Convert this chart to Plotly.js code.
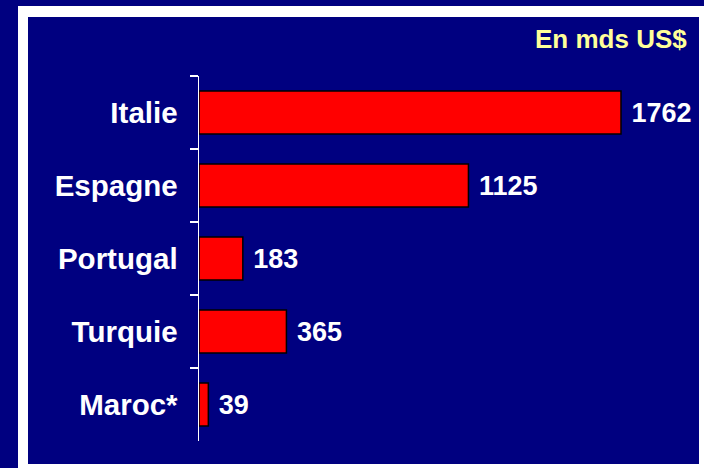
<!DOCTYPE html>
<html>
<head>
<meta charset="utf-8">
<script src="https://cdn.plot.ly/plotly-3.0.1.min.js"></script>
<style>
  html, body { margin: 0; padding: 0; background: #000080; width: 704px; height: 468px; overflow: hidden; }
  #frame { position: absolute; left: 18px; top: 6px; width: 700px; height: 470px; background: #ffffff; }
  #chart { position: absolute; left: 28px; top: 17px; width: 671px; height: 447px; }
</style>
</head>
<body>
<div id="frame"></div>
<div id="chart"></div>
<script>
const categories = ["Italie", "Espagne", "Portugal", "Turquie", "Maroc*"];
const values = [1762, 1125, 183, 365, 39];
const unitLabel = "En mds US$";

const trace = {
  type: "bar",
  orientation: "h",
  y: categories,
  x: values,
  text: values.map(v => " " + v),
  textposition: "outside",
  cliponaxis: false,
  textfont: { family: "Liberation Sans, Arial, sans-serif", size: 27, color: "#ffffff", weight: "bold" },
  marker: { color: "#ff0000", line: { color: "#000000", width: 1.5 } },
  hoverinfo: "skip"
};

const layout = {
  width: 671,
  height: 447,
  margin: { l: 171, r: 21, t: 59, b: 23 },
  paper_bgcolor: "#000080",
  plot_bgcolor: "#000080",
  bargap: 0.41,
  showlegend: false,
  font: { family: "Liberation Sans, Arial, sans-serif", color: "#ffffff" },
  xaxis: {
    range: [0, 2000],
    visible: false,
    showgrid: false,
    zeroline: false,
    fixedrange: true
  },
  yaxis: {
    autorange: "reversed",
    showline: true,
    linecolor: "#ffffff",
    linewidth: 1.5,
    ticks: "outside",
    tickson: "boundaries",
    ticklen: 8,
    tickwidth: 1.5,
    tickcolor: "#ffffff",
    ticklabelstandoff: 14,
    showgrid: false,
    zeroline: false,
    tickfont: { family: "Liberation Sans, Arial, sans-serif", size: 29.5, color: "#ffffff", weight: "bold" },
    fixedrange: true
  },
  annotations: [{
    text: unitLabel,
    xref: "paper", yref: "paper",
    x: 1, y: 1,
    xanchor: "right", yanchor: "middle",
    xshift: 11, yshift: 37,
    showarrow: false,
    font: { family: "Liberation Sans, Arial, sans-serif", size: 26, color: "#ffff99", weight: "bold" }
  }]
};

Plotly.newPlot("chart", [trace], layout, { displayModeBar: false, staticPlot: true });
</script>
</body>
</html>
